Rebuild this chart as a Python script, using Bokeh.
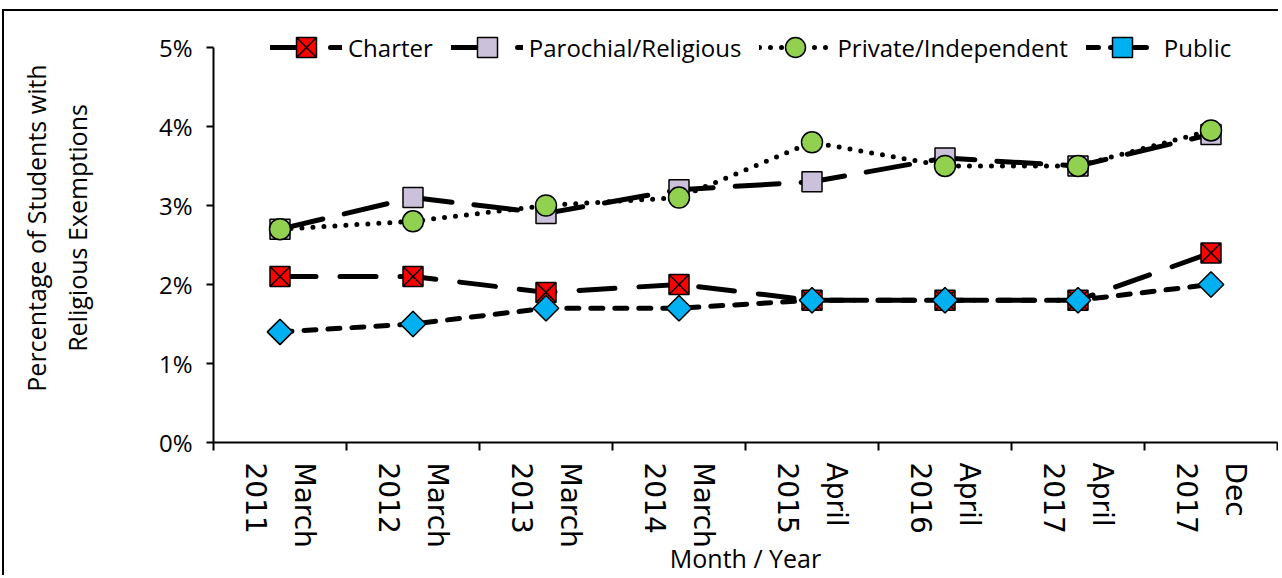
import numpy as np
from bokeh.plotting import figure
from bokeh.models import FixedTicker, PrintfTickFormatter, Legend, LegendItem, Range1d
from bokeh.embed import file_html
from bokeh.resources import INLINE

# ---- data ----
months = ["March\n2011", "March\n2012", "March\n2013", "March\n2014",
          "April\n2015", "April\n2016", "April\n2017", "Dec\n2017"]
charter = [2.1, 2.1, 1.9, 2.0, 1.8, 1.8, 1.8, 2.4]
parochial = [2.7, 3.1, 2.9, 3.2, 3.3, 3.6, 3.5, 3.9]
private = [2.7, 2.8, 3.0, 3.1, 3.8, 3.5, 3.5, 3.95]
public = [1.4, 1.5, 1.7, 1.7, 1.8, 1.8, 1.8, 2.0]
series_names = ["Charter", "Parochial/Religious", "Private/Independent", "Public"]
y_ticks = [0, 1, 2, 3, 4, 5]

n = len(months)
xc = [i + 0.5 for i in range(n)]          # category centres
bounds = list(range(n + 1))               # category boundaries

p = figure(width=1276, height=566,
           x_range=Range1d(0, n), y_range=Range1d(0, 5.43),
           output_backend="svg", toolbar_location=None,
           min_border_left=209, min_border_right=3,
           min_border_top=2, min_border_bottom=134)
p.styles = {"border-top": "2px solid black", "border-left": "2px solid black",
            "margin-top": "9px", "margin-left": "2px"}
p.xgrid.visible = False
p.ygrid.visible = False
p.outline_line_color = None
p.background_fill_color = "white"
p.border_fill_color = "white"

# x axis
xa = p.xaxis[0]
xa.ticker = FixedTicker(ticks=xc, minor_ticks=bounds)
xa.major_label_overrides = {xv: m for xv, m in zip(xc, months)}
xa.major_tick_out = 0
xa.major_tick_in = 0
xa.minor_tick_out = 8
xa.minor_tick_in = 0
xa.minor_tick_line_color = "black"
xa.minor_tick_line_width = 2
xa.axis_line_width = 2
xa.axis_line_color = "black"
xa.major_label_orientation = -np.pi / 2
xa.major_label_text_font = "DejaVu Sans"
xa.major_label_text_font_size = "28px"
xa.major_label_text_line_height = 1.5
xa.major_label_text_color = "black"
xa.major_label_standoff = 12
xa.axis_label = "Month / Year"
xa.axis_label_text_font = "Open Sans"
xa.axis_label_text_font_size = "25px"
xa.axis_label_text_font_style = "normal"
xa.axis_label_text_color = "black"
xa.axis_label_standoff = -10

# y axis
ya = p.yaxis[0]
ya.bounds = (0, 5)
ya.ticker = FixedTicker(ticks=y_ticks)
ya.formatter = PrintfTickFormatter(format="%d%%")
ya.major_tick_out = 7
ya.major_tick_in = 0
ya.minor_tick_out = 0
ya.minor_tick_in = 0
ya.major_tick_line_width = 2
ya.axis_line_width = 2
ya.major_label_text_font = "Open Sans"
ya.major_label_text_font_size = "24px"
ya.major_label_text_color = "black"
ya.major_label_standoff = 14
ya.axis_label = "Percentage of Students with\nReligious Exemptions"
ya.axis_label_text_font = "Open Sans"
ya.axis_label_text_font_size = "25px"
ya.axis_label_text_font_style = "normal"
ya.axis_label_text_color = "black"
ya.axis_label_standoff = 62

styles = [
    dict(values=charter, dash="36 24", marker="square_x", size=20, fill="#FF0000", angle=0.0),
    dict(values=parochial, dash="44 22", marker="square", size=20, fill="#CCC1DA", angle=0.0),
    dict(values=private, dash="0 11", marker="circle", size=21, fill="#92D050", angle=0.0),
    dict(values=public, dash="12 12", marker="square", size=18, fill="#00B0F0", angle=np.pi / 4),
]

items = []
for name, st in zip(series_names, styles):
    ln = p.line(xc, st["values"], line_color="black", line_width=5,
                line_dash=st["dash"], line_cap="round", line_join="round")
    sc = p.scatter(xc, st["values"], marker=st["marker"], size=st["size"],
                   fill_color=st["fill"], line_color="black", line_width=1.5,
                   angle=st["angle"])
    items.append(LegendItem(label=name, renderers=[ln, sc]))

legend = Legend(items=items, orientation="horizontal", location=(57, 370),
                glyph_width=72, glyph_height=50, label_standoff=6, spacing=18,
                padding=0, margin=0, background_fill_alpha=0, border_line_alpha=0,
                label_text_font="Open Sans", label_text_font_size="24px",
                label_text_color="black")
p.add_layout(legend, "center")

open("out.html", "w").write(file_html(p, INLINE))
